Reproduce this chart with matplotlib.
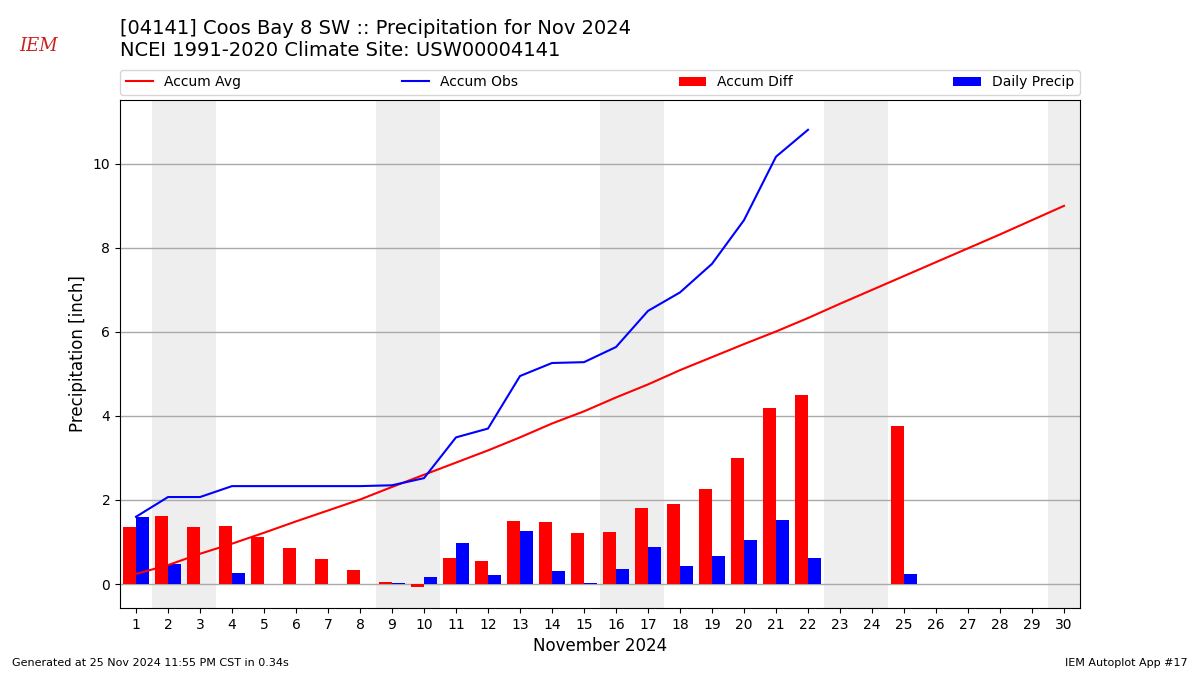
import matplotlib.pyplot as plt
import numpy as np

# valores (pulgadas)
dias = np.arange(1, 31)
accum_avg = [0.24, 0.45, 0.72, 0.96, 1.22, 1.49, 1.75, 2.01, 2.31, 2.60,
             2.89, 3.18, 3.49, 3.82, 4.11, 4.44, 4.75, 5.09, 5.40, 5.71,
             6.01, 6.33, 6.67, 7.00, 7.33, 7.66, 7.99, 8.32, 8.66, 9.00]
accum_obs = [1.60, 2.07, 2.07, 2.33, 2.33, 2.33, 2.33, 2.33, 2.35, 2.52,
             3.49, 3.70, 4.95, 5.26, 5.28, 5.64, 6.50, 6.94, 7.62, 8.66,
             10.17, 10.81, np.nan, np.nan, 11.05, np.nan, np.nan, np.nan, np.nan, np.nan]
accum_diff = [1.36, 1.63, 1.36, 1.39, 1.13, 0.86, 0.60, 0.34, 0.06, -0.06,
              0.63, 0.55, 1.50, 1.48, 1.21, 1.24, 1.81, 1.90, 2.26, 3.00,
              4.19, 4.50, 0, 0, 3.76, 0, 0, 0, 0, 0]
daily_precip = [1.60, 0.48, 0, 0.27, 0, 0, 0, 0, 0.02, 0.17,
                0.98, 0.21, 1.26, 0.31, 0.02, 0.36, 0.88, 0.43, 0.67, 1.05,
                1.52, 0.62, 0, 0, 0.24, 0, 0, 0, 0, 0]
fines_de_semana = [2, 3, 9, 10, 16, 17, 23, 24, 30]

fig = plt.figure(figsize=(12, 6.75), dpi=100)
ax = fig.add_axes([0.1, 0.0993, 0.8, 0.7526])

# sombreado de fines de semana
for d in fines_de_semana:
    ax.axvspan(d - 0.5, d + 0.5, color='#EEEEEE', zorder=0, lw=0)

ax.plot(dias, accum_avg, color='r', lw=1.5, label='Accum Avg', zorder=3)
ax.plot(dias, accum_obs, color='b', lw=1.5, label='Accum Obs', zorder=3)
ax.bar(dias - 0.2, accum_diff, width=0.4, color='r', label='Accum Diff', zorder=2)
ax.bar(dias + 0.2, daily_precip, width=0.4, color='b', label='Daily Precip', zorder=2)

ax.set_xlim(0.5, 30.5)
ax.set_ylim(-0.57, 11.52)
ax.set_xticks(dias)
ax.set_xticklabels([str(d) for d in dias], fontsize=10)
ax.set_yticks([0, 2, 4, 6, 8, 10])
ax.tick_params(axis='y', labelsize=10)
ax.yaxis.grid(True, color='#AAAAAA', lw=1)
ax.set_axisbelow(True)
ax.set_xlabel('November 2024', fontsize=12)
ax.set_ylabel('Precipitation [inch]', fontsize=12)

ax.legend(loc='lower left', bbox_to_anchor=(0, 1.01, 1, 0.05), mode='expand',
          ncol=4, fontsize=10, borderaxespad=0)

fig.text(0.1, 0.972, '[04141] Coos Bay 8 SW :: Precipitation for Nov 2024\n'
         'NCEI 1991-2020 Climate Site: USW00004141', fontsize=14, va='top', ha='left')
fig.text(0.032, 0.932, 'IEM', fontsize=13, color='#CC2222', family='DejaVu Serif',
         style='italic', ha='center', va='center')
fig.text(0.01, 0.013, 'Generated at 25 Nov 2024 11:55 PM CST in 0.34s', fontsize=8)
fig.text(0.99, 0.013, 'IEM Autoplot App #17', fontsize=8, ha='right')

plt.savefig('out.png')
